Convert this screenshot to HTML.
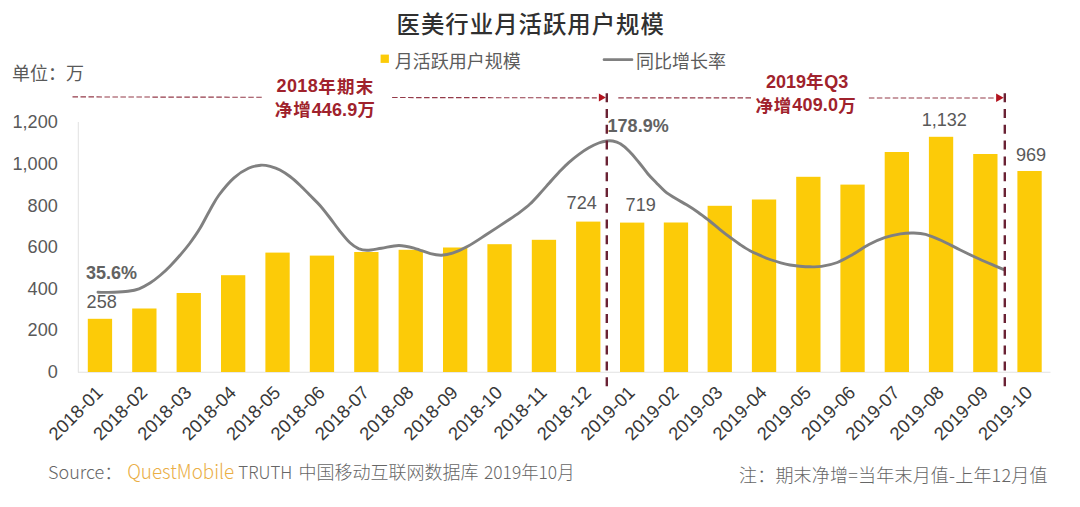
<!DOCTYPE html>
<html lang="zh-CN">
<head>
<meta charset="utf-8">
<title>医美行业月活跃用户规模</title>
<style>
html,body{margin:0;padding:0;background:#fff;}
body{width:1080px;height:507px;overflow:hidden;}
svg{display:block;}
text{font-family:"Liberation Sans", "Noto Sans CJK SC", sans-serif;}
.ax{font-size:18.1px;fill:#595959;}
.xl{font-size:18.4px;fill:#383838;}
.dl{font-size:18.1px;fill:#595959;}
.pc{font-size:18px;font-weight:700;fill:#626262;}
.an{font-size:18px;font-weight:700;fill:#a0222c;letter-spacing:0.15px;}
.cj{font-size:17.5px;letter-spacing:0.95px;}
.qm{font-size:20px;fill:#eaae45;font-family:"Noto Sans CJK SC","Liberation Sans",sans-serif;font-weight:300;}
.lg{font-size:18px;fill:#5c5c5c;}
.ft{font-size:18px;fill:#666;font-family:"Noto Sans CJK SC","Liberation Sans",sans-serif;font-weight:300;}
</style>
</head>
<body>
<svg width="1080" height="507" viewBox="0 0 1080 507">
<rect width="1080" height="507" fill="#ffffff"/>
<text x="396.6" y="33.2" font-size="23.4" font-weight="500" letter-spacing="1" fill="#303030">医美行业月活跃用户规模</text>
<rect x="380.6" y="54.6" width="8.3" height="8.3" fill="#fccb08"/>
<text class="lg" x="394.7" y="67.5">月活跃用户规模</text>
<line x1="604" y1="59.7" x2="632" y2="59.7" stroke="#808080" stroke-width="2.7" stroke-linecap="round"/>
<text class="lg" x="636" y="67.5">同比增长率</text>
<text x="12" y="79.5" font-size="18" fill="#595959">单位：万</text>
<text class="ax" x="57.8" y="378.0" text-anchor="end">0</text>
<text class="ax" x="57.8" y="336.4" text-anchor="end">200</text>
<text class="ax" x="57.8" y="294.8" text-anchor="end">400</text>
<text class="ax" x="57.8" y="253.2" text-anchor="end">600</text>
<text class="ax" x="57.8" y="211.6" text-anchor="end">800</text>
<text class="ax" x="57.8" y="170.0" text-anchor="end">1,000</text>
<text class="ax" x="57.8" y="128.4" text-anchor="end">1,200</text>
<line x1="78.3" y1="122" x2="78.3" y2="372.5" stroke="#e2e2e2" stroke-width="1"/>
<line x1="78" y1="372.3" x2="1050.5" y2="372.3" stroke="#e2e2e2" stroke-width="1.1"/>
<rect x="87.8" y="318.8" width="24.3" height="53.2" fill="#fccb08"/>
<rect x="132.2" y="308.5" width="24.3" height="63.5" fill="#fccb08"/>
<rect x="176.6" y="293.0" width="24.3" height="79.0" fill="#fccb08"/>
<rect x="221.0" y="275.2" width="24.3" height="96.8" fill="#fccb08"/>
<rect x="265.4" y="252.6" width="24.3" height="119.4" fill="#fccb08"/>
<rect x="309.8" y="255.6" width="24.3" height="116.4" fill="#fccb08"/>
<rect x="354.2" y="252.0" width="24.3" height="120.0" fill="#fccb08"/>
<rect x="398.6" y="249.8" width="24.3" height="122.2" fill="#fccb08"/>
<rect x="443.0" y="247.5" width="24.3" height="124.5" fill="#fccb08"/>
<rect x="487.4" y="244.2" width="24.3" height="127.8" fill="#fccb08"/>
<rect x="531.8" y="239.8" width="24.3" height="132.2" fill="#fccb08"/>
<rect x="576.1" y="221.6" width="24.3" height="150.4" fill="#fccb08"/>
<rect x="620.0" y="222.6" width="24.3" height="149.4" fill="#fccb08"/>
<rect x="663.8" y="222.5" width="24.3" height="149.5" fill="#fccb08"/>
<rect x="707.6" y="205.8" width="24.3" height="166.2" fill="#fccb08"/>
<rect x="751.9" y="199.5" width="24.3" height="172.5" fill="#fccb08"/>
<rect x="796.2" y="176.8" width="24.3" height="195.2" fill="#fccb08"/>
<rect x="840.4" y="184.6" width="24.3" height="187.4" fill="#fccb08"/>
<rect x="884.7" y="152.0" width="24.3" height="220.0" fill="#fccb08"/>
<rect x="928.9" y="136.8" width="24.3" height="235.2" fill="#fccb08"/>
<rect x="973.2" y="154.0" width="24.3" height="218.0" fill="#fccb08"/>
<rect x="1017.4" y="171.0" width="24.3" height="201.0" fill="#fccb08"/>
<path d="M98.0,292.3 C100.7,292.3 109.0,292.5 114.0,292.3 C119.0,292.1 123.8,291.9 128.0,291.3 C132.2,290.7 135.3,290.2 139.0,288.8 C142.7,287.4 146.5,285.2 150.0,283.0 C153.5,280.8 156.7,278.3 160.0,275.5 C163.3,272.7 166.7,269.6 170.0,266.2 C173.3,262.8 176.7,259.2 180.0,255.3 C183.3,251.4 186.7,247.5 190.0,243.0 C193.3,238.5 196.7,233.8 200.0,228.3 C203.3,222.8 206.8,215.6 210.0,210.0 C213.2,204.4 215.0,200.4 219.0,195.0 C223.0,189.6 229.1,182.2 234.0,177.8 C238.9,173.4 244.0,170.4 248.5,168.3 C253.0,166.2 257.1,165.5 260.8,165.2 C264.6,164.9 267.8,165.8 271.0,166.6 C274.2,167.4 276.8,168.3 280.0,170.0 C283.2,171.7 286.7,174.0 290.0,176.5 C293.3,179.0 296.7,182.1 300.0,185.2 C303.3,188.3 306.7,191.9 310.0,195.3 C313.3,198.7 316.7,201.7 320.0,205.5 C323.3,209.3 326.7,213.7 330.0,218.0 C333.3,222.3 336.7,227.2 340.0,231.3 C343.3,235.4 346.9,239.9 350.0,242.8 C353.1,245.7 355.6,247.3 358.5,248.6 C361.4,249.8 363.5,250.4 367.3,250.3 C371.1,250.2 376.2,249.0 381.5,248.2 C386.8,247.4 393.4,245.5 398.9,245.5 C404.4,245.5 409.4,246.9 414.6,248.3 C419.9,249.7 425.9,252.5 430.4,253.7 C434.9,254.8 437.8,255.3 441.5,255.2 C445.2,255.1 448.0,254.7 452.5,253.2 C457.0,251.7 462.5,249.2 468.3,246.0 C474.1,242.8 480.4,238.4 487.2,234.0 C494.0,229.6 503.9,223.1 509.3,219.5 C514.7,215.9 516.2,214.9 519.7,212.3 C523.2,209.7 526.7,207.1 530.0,204.0 C533.3,200.9 536.3,197.5 539.5,194.0 C542.7,190.5 546.0,186.7 549.3,183.0 C552.6,179.3 555.9,175.4 559.2,172.0 C562.5,168.6 565.7,165.2 569.0,162.3 C572.3,159.4 575.6,156.7 578.9,154.3 C582.2,151.9 585.5,149.7 588.8,147.8 C592.1,145.9 595.7,144.1 598.7,143.0 C601.7,141.9 604.3,141.3 606.6,141.0 C608.9,140.7 610.3,140.6 612.5,141.0 C614.7,141.4 617.2,141.8 620.0,143.6 C622.8,145.3 626.3,148.3 629.5,151.5 C632.7,154.7 635.9,158.8 639.0,162.5 C642.1,166.2 645.1,170.6 648.0,174.0 C650.9,177.4 653.7,180.1 656.5,183.0 C659.3,185.9 661.9,188.8 665.0,191.3 C668.1,193.9 671.7,196.1 675.3,198.3 C678.9,200.6 682.8,202.5 686.6,204.8 C690.4,207.1 694.3,209.6 698.0,212.2 C701.7,214.8 705.4,217.7 709.0,220.5 C712.6,223.3 716.2,226.5 719.7,229.3 C723.2,232.1 726.9,235.0 730.3,237.5 C733.7,240.0 736.7,242.3 740.0,244.5 C743.3,246.7 746.4,248.8 750.0,250.7 C753.6,252.6 758.6,254.7 761.9,256.2 C765.2,257.7 766.9,258.4 770.0,259.5 C773.1,260.6 777.5,261.9 780.8,262.8 C784.1,263.7 786.9,264.4 790.0,265.0 C793.1,265.6 796.4,265.9 799.7,266.2 C803.0,266.5 806.4,266.8 810.0,266.8 C813.6,266.8 817.0,267.1 821.5,266.4 C826.0,265.7 832.0,264.5 837.3,262.5 C842.6,260.5 847.8,257.3 853.1,254.3 C858.4,251.3 863.6,247.3 868.9,244.5 C874.1,241.7 879.4,239.5 884.6,237.7 C889.9,235.9 895.7,234.7 900.4,233.9 C905.1,233.1 908.8,232.9 913.0,233.0 C917.2,233.1 920.9,233.1 925.6,234.3 C930.3,235.6 935.6,237.9 941.4,240.5 C947.2,243.1 954.0,246.9 960.3,250.0 C966.6,253.1 973.5,256.4 979.3,259.0 C985.1,261.6 990.8,264.0 995.0,265.8 C999.2,267.6 1002.9,269.2 1004.5,269.9" fill="none" stroke="#808080" stroke-width="2.9" stroke-linecap="round" stroke-linejoin="round"/>
<line x1="72.5" y1="96.9" x2="596.8" y2="97.9" stroke="#943a49" stroke-width="1.15" stroke-dasharray="5.5 2.49"/>
<rect x="263.3" y="76" width="128.7" height="44" fill="#fff"/>
<line x1="618.3" y1="97.9" x2="751.8" y2="97.9" stroke="#943a49" stroke-width="1.15" stroke-dasharray="5.5 2.45"/>
<line x1="868.9" y1="98" x2="994.2" y2="98" stroke="#943a49" stroke-width="1.15" stroke-dasharray="5.5 2.45"/>
<path d="M598.9,93.4 L605.9,97.5 L598.9,101.6 Z" fill="#b3141f"/>
<path d="M996.1,93.4 L1003.7,97.7 L996.1,102 Z" fill="#b3141f"/>
<line x1="606.8" y1="93.3" x2="606.8" y2="386.4" stroke="#6a2234" stroke-width="2.4" stroke-dasharray="9 6.77"/>
<line x1="1004.8" y1="93.3" x2="1004.8" y2="386.4" stroke="#6a2234" stroke-width="2.4" stroke-dasharray="9 6.77"/>
<text class="an" x="325.3" y="92.4" text-anchor="middle" textLength="97.6" lengthAdjust="spacing"><tspan>2018</tspan><tspan class="cj" dy="0.7">年期末</tspan></text>
<text class="an" x="325.3" y="115.7" text-anchor="middle"><tspan class="cj" dy="0.7">净增</tspan><tspan dy="-0.7">446.9</tspan><tspan class="cj" dy="0.7">万</tspan></text>
<text class="an" x="807.2" y="87.5" text-anchor="middle" textLength="82.2" lengthAdjust="spacing"><tspan>2019</tspan><tspan class="cj" dy="0.7">年</tspan><tspan dy="-0.7">Q3</tspan></text>
<text class="an" x="806" y="111" text-anchor="middle"><tspan class="cj" dy="0.7">净增</tspan><tspan dy="-0.7">409.0</tspan><tspan class="cj" dy="0.7">万</tspan></text>
<text class="pc" x="86" y="279.1">35.6%</text>
<text class="pc" x="607.6" y="132">178.9%</text>
<text class="dl" x="101.7" y="307.8" text-anchor="middle">258</text>
<text class="dl" x="581.7" y="209.2" text-anchor="middle">724</text>
<text class="dl" x="640.7" y="211.4" text-anchor="middle">719</text>
<text class="dl" x="944.3" y="126.4" text-anchor="middle">1,132</text>
<text class="dl" x="1031" y="160.7" text-anchor="middle">969</text>
<text class="xl" text-anchor="end" transform="translate(104.0,393.8) rotate(-45)">2018-01</text>
<text class="xl" text-anchor="end" transform="translate(148.4,393.8) rotate(-45)">2018-02</text>
<text class="xl" text-anchor="end" transform="translate(192.8,393.8) rotate(-45)">2018-03</text>
<text class="xl" text-anchor="end" transform="translate(237.2,393.8) rotate(-45)">2018-04</text>
<text class="xl" text-anchor="end" transform="translate(281.6,393.8) rotate(-45)">2018-05</text>
<text class="xl" text-anchor="end" transform="translate(326.0,393.8) rotate(-45)">2018-06</text>
<text class="xl" text-anchor="end" transform="translate(370.3,393.8) rotate(-45)">2018-07</text>
<text class="xl" text-anchor="end" transform="translate(414.7,393.8) rotate(-45)">2018-08</text>
<text class="xl" text-anchor="end" transform="translate(459.1,393.8) rotate(-45)">2018-09</text>
<text class="xl" text-anchor="end" transform="translate(503.5,393.8) rotate(-45)">2018-10</text>
<text class="xl" text-anchor="end" transform="translate(547.9,393.8) rotate(-45)">2018-11</text>
<text class="xl" text-anchor="end" transform="translate(592.3,393.8) rotate(-45)">2018-12</text>
<text class="xl" text-anchor="end" transform="translate(636.1,393.8) rotate(-45)">2019-01</text>
<text class="xl" text-anchor="end" transform="translate(680.0,393.8) rotate(-45)">2019-02</text>
<text class="xl" text-anchor="end" transform="translate(723.8,393.8) rotate(-45)">2019-03</text>
<text class="xl" text-anchor="end" transform="translate(768.1,393.8) rotate(-45)">2019-04</text>
<text class="xl" text-anchor="end" transform="translate(812.3,393.8) rotate(-45)">2019-05</text>
<text class="xl" text-anchor="end" transform="translate(856.6,393.8) rotate(-45)">2019-06</text>
<text class="xl" text-anchor="end" transform="translate(900.8,393.8) rotate(-45)">2019-07</text>
<text class="xl" text-anchor="end" transform="translate(945.1,393.8) rotate(-45)">2019-08</text>
<text class="xl" text-anchor="end" transform="translate(989.3,393.8) rotate(-45)">2019-09</text>
<text class="xl" text-anchor="end" transform="translate(1033.6,393.8) rotate(-45)">2019-10</text>
<text class="ft" x="48" y="479" font-size="18.5">Source：</text>
<text class="qm" x="127.2" y="479" textLength="107" lengthAdjust="spacingAndGlyphs">QuestMobile</text>
<text class="ft" x="238.3" y="479" textLength="54" lengthAdjust="spacingAndGlyphs">TRUTH</text>
<text class="ft" x="298.5" y="479">中国移动互联网数据库</text>
<text class="ft" x="484" y="479" textLength="90.5" lengthAdjust="spacingAndGlyphs">2019年10月</text>
<text class="ft" x="739" y="482" textLength="308.5" lengthAdjust="spacing">注：期末净增=当年末月值-上年12月值</text>
</svg>
</body>
</html>
